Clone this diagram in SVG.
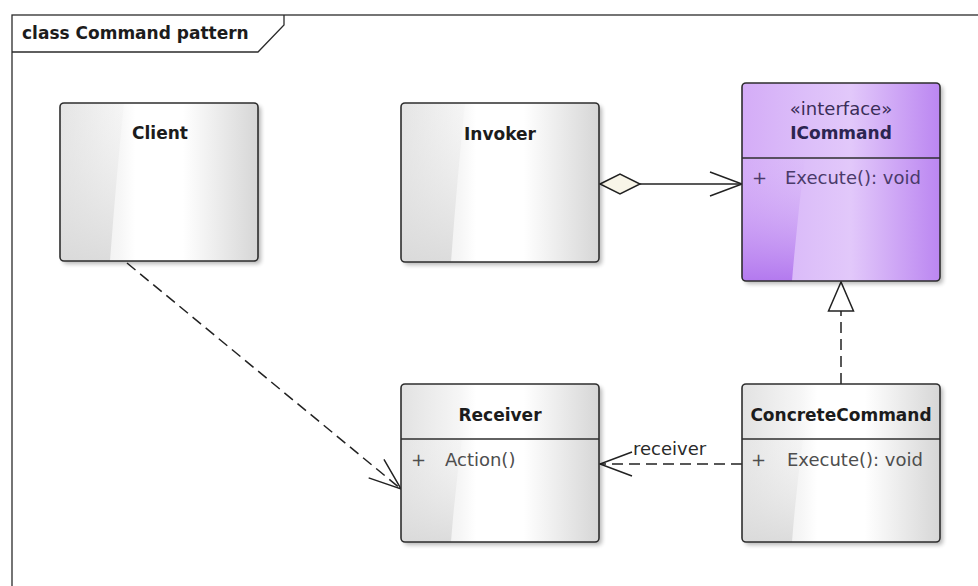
<svg xmlns="http://www.w3.org/2000/svg" width="978" height="586" viewBox="0 0 978 586">
  <defs>
    <style>
      .frame { fill: #ffffff; stroke: #2b2b2b; stroke-width: 1.3; }
      .box { stroke: #2e2e2e; stroke-width: 1.6; }
      .grey { fill: url(#greyFill); }
      .purple { fill: url(#purpleFill); }
      .shadow { fill: #000000; opacity: 0.28; filter: url(#soft); }
      .sep { stroke: #2e2e2e; stroke-width: 1.4; }
      .name { font-family: "DejaVu Sans", Verdana, sans-serif; font-weight: bold; font-size: 17px; fill: #1c1c1c; text-anchor: middle; }
      .title { font-family: "DejaVu Sans", Verdana, sans-serif; font-weight: bold; font-size: 17px; fill: #1c1c1c; }
      .member { font-family: "DejaVu Sans", Verdana, sans-serif; font-size: 18px; fill: #4e4e4e; }
      .stereo { font-family: "DejaVu Sans", Verdana, sans-serif; font-size: 18px; fill: #3a2d58; text-anchor: middle; }
      .iname { fill: #2b2450; }
      .imember { fill: #4a3a6a; }
      .label { font-family: "DejaVu Sans", Verdana, sans-serif; font-size: 18px; fill: #2a2a2a; }
      .conn { fill: none; stroke: #222222; stroke-width: 1.5; }
      .dash { stroke-dasharray: 11 6; }
    </style>
    <filter id="soft" x="-10%" y="-10%" width="120%" height="120%">
      <feGaussianBlur stdDeviation="2"/>
    </filter>
    <linearGradient id="greyFill" x1="0" y1="0" x2="1" y2="0">
      <stop offset="0" stop-color="#e2e2e2"/>
      <stop offset="0.3" stop-color="#f6f6f6"/>
      <stop offset="0.38" stop-color="#ffffff"/>
      <stop offset="0.62" stop-color="#ffffff"/>
      <stop offset="1" stop-color="#d6d6d6"/>
    </linearGradient>
    <linearGradient id="greyCurve" x1="0" y1="0" x2="0" y2="1">
      <stop offset="0" stop-color="#eeeeee" stop-opacity="0.2"/>
      <stop offset="1" stop-color="#d9d9d9" stop-opacity="0.9"/>
    </linearGradient>
    <linearGradient id="purpleFill" x1="0" y1="0" x2="1" y2="0">
      <stop offset="0" stop-color="#d4acf7"/>
      <stop offset="0.32" stop-color="#dcbef9"/>
      <stop offset="0.55" stop-color="#e2c8fa"/>
      <stop offset="1" stop-color="#bb86f1"/>
    </linearGradient>
    <linearGradient id="purpleCurve" x1="0" y1="0" x2="0" y2="1">
      <stop offset="0" stop-color="#d8b6f8" stop-opacity="0.1"/>
      <stop offset="1" stop-color="#b176ee" stop-opacity="0.95"/>
    </linearGradient>
    <!-- open arrowhead (dependency / navigable association) -->
    <marker id="openArrow" markerUnits="userSpaceOnUse" markerWidth="40" markerHeight="30" viewBox="-34 -15 40 30" refX="0" refY="0" orient="auto" overflow="visible">
      <path d="M -32 -12 L 0 0 L -32 12" fill="none" stroke="#222222" stroke-width="1.5"/>
    </marker>
    <!-- hollow triangle (realization) -->
    <marker id="hollowTri" markerUnits="userSpaceOnUse" markerWidth="40" markerHeight="30" viewBox="-34 -15 40 30" refX="0" refY="0" orient="auto" overflow="visible">
      <path d="M 0 0 L -29 -12.5 L -29 12.5 Z" fill="#ffffff" stroke="#222222" stroke-width="1.5"/>
    </marker>
    <!-- hollow diamond (aggregation) -->
    <marker id="hollowDiamond" markerUnits="userSpaceOnUse" markerWidth="44" markerHeight="24" viewBox="-2 -12 44 24" refX="0" refY="0" orient="auto" overflow="visible">
      <path d="M 0 0 L 20 -10 L 40 0 L 20 10 Z" fill="#f8f5e8" stroke="#222222" stroke-width="1.5"/>
    </marker>
  </defs>

  <rect x="0" y="0" width="978" height="586" fill="#ffffff"/>

  <!-- package frame -->
  <g id="frame">
    <rect class="frame" x="12" y="15" width="990" height="600"/>
    <polyline points="12,52 258,52 284,25 284,15" fill="none" stroke="#2b2b2b" stroke-width="1.3"/>
    <text class="title" x="22" y="39">class Command pattern</text>
  </g>

  <!-- connectors -->
  <g id="connectors">
    <line class="conn dash" x1="127" y1="263" x2="401" y2="489" marker-end="url(#openArrow)"/>
    <line class="conn" x1="600" y1="184" x2="742" y2="184" marker-start="url(#hollowDiamond)" marker-end="url(#openArrow)"/>
    <line class="conn dash" x1="742" y1="464" x2="600" y2="464" marker-end="url(#openArrow)"/>
    <text class="label" x="633" y="455">receiver</text>
    <line class="conn dash" x1="841" y1="384" x2="841" y2="282" marker-end="url(#hollowTri)"/>
  </g>

  <!-- Client -->
  <g id="client">
    <rect class="shadow" x="63" y="106" width="198" height="158" rx="4"/>
    <rect class="grey" x="60" y="103" width="198" height="158" rx="4"/>
    <path d="M 64 103 L 124 103 Q 116 180 110 261 L 64 261 Q 60 261 60 257 L 60 107 Q 60 103 64 103 Z" fill="url(#greyCurve)"/>
    <rect class="box" x="60" y="103" width="198" height="158" rx="4" fill="none"/>
    <text class="name" x="160" y="139">Client</text>
  </g>

  <!-- Invoker -->
  <g id="invoker">
    <rect class="shadow" x="404" y="106" width="198" height="159" rx="4"/>
    <rect class="grey" x="401" y="103" width="198" height="159" rx="4"/>
    <path d="M 405 103 L 465 103 Q 457 180 451 262 L 405 262 Q 401 262 401 258 L 401 107 Q 401 103 405 103 Z" fill="url(#greyCurve)"/>
    <rect class="box" x="401" y="103" width="198" height="159" rx="4" fill="none"/>
    <text class="name" x="500" y="140">Invoker</text>
  </g>

  <!-- ICommand interface -->
  <g id="icommand">
    <rect class="shadow" x="745" y="86" width="198" height="198" rx="4"/>
    <rect class="purple" x="742" y="83" width="198" height="198" rx="4"/>
    <path d="M 746 158 L 805 158 Q 797 220 792 281 L 746 281 Q 742 281 742 277 L 742 158 Z" fill="url(#purpleCurve)"/>
    <rect class="box" x="742" y="83" width="198" height="198" rx="4" fill="none"/>
    <line class="sep" x1="742" y1="158" x2="940" y2="158"/>
    <text class="stereo" x="841" y="115">«interface»</text>
    <text class="name iname" x="841" y="139">ICommand</text>
    <text class="member imember" x="752" y="184">+</text>
    <text class="member imember" x="785" y="184">Execute(): void</text>
  </g>

  <!-- Receiver -->
  <g id="receiver">
    <rect class="shadow" x="404" y="387" width="198" height="158" rx="4"/>
    <rect class="grey" x="401" y="384" width="198" height="158" rx="4"/>
    <path d="M 405 439 L 462 439 Q 455 490 451 542 L 405 542 Q 401 542 401 538 L 401 439 Z" fill="url(#greyCurve)"/>
    <rect class="box" x="401" y="384" width="198" height="158" rx="4" fill="none"/>
    <line class="sep" x1="401" y1="439" x2="599" y2="439"/>
    <text class="name" x="500" y="421">Receiver</text>
    <text class="member" x="411" y="466">+</text>
    <text class="member" x="445" y="466">Action()</text>
  </g>

  <!-- ConcreteCommand -->
  <g id="concrete-command">
    <rect class="shadow" x="745" y="387" width="198" height="158" rx="4"/>
    <rect class="grey" x="742" y="384" width="198" height="158" rx="4"/>
    <path d="M 746 439 L 803 439 Q 796 490 792 542 L 746 542 Q 742 542 742 538 L 742 439 Z" fill="url(#greyCurve)"/>
    <rect class="box" x="742" y="384" width="198" height="158" rx="4" fill="none"/>
    <line class="sep" x1="742" y1="439" x2="940" y2="439"/>
    <text class="name" x="841" y="421">ConcreteCommand</text>
    <text class="member" x="751" y="466">+</text>
    <text class="member" x="787" y="466">Execute(): void</text>
  </g>
</svg>
